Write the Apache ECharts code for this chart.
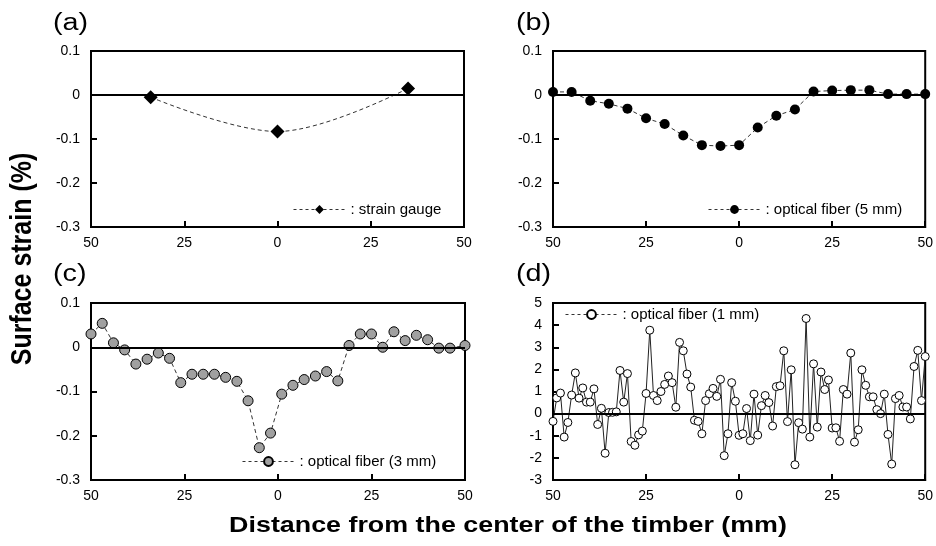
<!DOCTYPE html>
<html><head><meta charset="utf-8">
<script src="https://cdn.jsdelivr.net/npm/echarts@6/dist/echarts.min.js"></script>
<style>html,body{margin:0;padding:0;background:#fff}#c{width:936px;height:546px}</style>
</head><body><div id="c"></div>
<script>
// ---------- data ----------
const xTickValues = [-50, -25, 0, 25, 50];
const yTicksStrain = [-0.3, -0.2, -0.1, 0, 0.1];
const yTicksFiber1 = [-3, -2, -1, 0, 1, 2, 3, 4, 5];

const gaugeX = [-34, 0, 35];
const gaugeY = [-0.005, -0.083, 0.015];

const fiber5X = [-50,-45,-40,-35,-30,-25,-20,-15,-10,-5,0,5,10,15,20,25,30,35,40,45,50];
const fiber5Y = [0.007,0.007,-0.013,-0.020,-0.031,-0.053,-0.066,-0.092,-0.114,-0.116,-0.114,
                 -0.074,-0.047,-0.033,0.008,0.010,0.011,0.011,0.002,0.002,0.002];

const fiber3X = [-50,-47,-44,-41,-38,-35,-32,-29,-26,-23,-20,-17,-14,-11,-8,-5,-2,1,4,7,10,13,16,19,22,25,28,31,34,37,40,43,46,50];
const fiber3Y = [0.030,0.054,0.010,-0.006,-0.038,-0.027,-0.013,-0.025,-0.080,-0.061,-0.061,-0.061,-0.068,-0.077,
                 -0.121,-0.227,-0.194,-0.106,-0.086,-0.073,-0.065,-0.055,-0.076,0.004,0.030,0.030,0.000,0.035,
                 0.015,0.027,0.017,-0.002,-0.002,0.004];

const fiber1X = [-50,-49,-48,-47,-46,-45,-44,-43,-42,-41,-40,-39,-38,-37,-36,-35,-34,-33,-32,-31,
                 -30,-29,-28,-27,-26,-25,-24,-23,-22,-21,-20,-19,-18,-17,-16,-15,-14,-13,-12,-11,
                 -10,-9,-8,-7,-6,-5,-4,-3,-2,-1,0,1,2,3,4,5,6,7,8,9,
                 10,11,12,13,14,15,16,17,18,19,20,21,22,23,24,25,26,27,28,29,
                 30,31,32,33,34,35,36,37,38,39,40,41,42,43,44,45,46,47,48,49,50];
const fiber1Y = [-0.35,0.71,0.93,-1.06,-0.40,0.84,1.84,0.70,1.16,0.52,
                 0.52,1.12,-0.49,0.24,-1.79,0.05,0.06,0.08,1.95,0.52,
                 1.81,-1.26,-1.43,-0.96,-0.79,0.91,3.77,0.82,0.59,1.00,
                 1.32,1.70,1.40,0.29,3.22,2.84,1.79,1.20,-0.30,-0.35,
                 -0.91,0.59,0.90,1.14,0.78,1.55,-1.90,-0.91,1.40,0.56,
                 -0.98,-0.91,0.23,-1.22,0.88,-0.97,0.36,0.82,0.50,-0.56,
                 1.22,1.26,2.84,-0.36,1.98,-2.31,-0.41,-0.70,4.30,-1.06,
                 2.25,-0.61,1.88,1.09,1.52,-0.65,-0.64,-1.25,1.09,0.88,
                 2.74,-1.29,-0.73,1.98,1.28,0.76,0.76,0.18,0.00,0.88,
                 -0.94,-2.28,0.68,0.82,0.30,0.30,-0.24,2.13,2.86,0.59,2.58];

const panelLabels = ['(a)', '(b)', '(c)', '(d)'];
const seriesNames = ['strain gauge', 'optical fiber (5 mm)', 'optical fiber (3 mm)', 'optical fiber (1 mm)'];
const yTitle = 'Surface strain (%)';
const xTitle = 'Distance from the center of the timber (mm)';

// ---------- chart ----------
const FONT = '"Liberation Sans", Arial, sans-serif';
const pairs = (xs, ys) => xs.map((x, i) => [x, ys[i]]);

const grids = [
  {left: 91, top: 51, width: 373, height: 176},
  {left: 553, top: 51, width: 376, height: 176},
  {left: 91, top: 303, width: 374, height: 177},
  {left: 553, top: 303, width: 376, height: 177}
].map(g => Object.assign(g, {show: true, borderColor: '#000', borderWidth: 2, containLabel: false}));

const xAxes = grids.map((g, i) => ({
  type: 'value', gridIndex: i, min: xTickValues[0], max: xTickValues[xTickValues.length - 1],
  interval: xTickValues[1] - xTickValues[0],
  axisLine: {show: true, onZero: false, lineStyle: {color: '#000', width: 2}},
  axisTick: {show: true, inside: true, length: 6, lineStyle: {color: '#000', width: 2}},
  axisLabel: {color: '#000', fontSize: 14, fontFamily: FONT, margin: 9,
              formatter: v => String(Math.abs(v))},
  splitLine: {show: false}
}));

const yAxes = grids.map((g, i) => {
  const t = i === 3 ? yTicksFiber1 : yTicksStrain;
  return {
    type: 'value', gridIndex: i, min: t[0], max: t[t.length - 1],
    interval: i === 3 ? 1 : 0.1,
    axisLine: {show: true, onZero: false, lineStyle: {color: '#000', width: 2}},
    axisTick: {show: true, inside: true, length: 6, lineStyle: {color: '#000', width: 2}},
    axisLabel: {color: '#000', fontSize: 14, fontFamily: FONT, margin: 11,
                formatter: v => String(Math.round(v * 10) / 10)},
    splitLine: {show: false}
  };
});

const zeroLine = {
  silent: true, symbol: ['none', 'none'], label: {show: false}, animation: false,
  lineStyle: {color: '#000', type: 'solid', width: 2}, data: [{yAxis: 0}]
};
const dash = [4, 3];

const series = [
  {name: seriesNames[0], type: 'line', xAxisIndex: 0, yAxisIndex: 0, data: pairs(gaugeX, gaugeY),
   smooth: 0.35, symbol: 'diamond', symbolSize: 14,
   itemStyle: {color: '#000'}, lineStyle: {color: '#333', width: 1, type: dash}, markLine: zeroLine, z: 3},
  {name: seriesNames[1], type: 'line', xAxisIndex: 1, yAxisIndex: 1, data: pairs(fiber5X, fiber5Y),
   symbol: 'circle', symbolSize: 10,
   itemStyle: {color: '#000'}, lineStyle: {color: '#333', width: 1, type: dash}, markLine: zeroLine, z: 3},
  {name: seriesNames[2], type: 'line', xAxisIndex: 2, yAxisIndex: 2, data: pairs(fiber3X, fiber3Y),
   symbol: 'circle', symbolSize: 10,
   itemStyle: {color: '#a0a0a0', borderColor: '#000', borderWidth: 1},
   lineStyle: {color: '#333', width: 1, type: dash}, markLine: zeroLine, z: 3},
  {name: seriesNames[3], type: 'line', xAxisIndex: 3, yAxisIndex: 3, data: pairs(fiber1X, fiber1Y),
   symbol: 'circle', symbolSize: 8, showAllSymbol: true,
   itemStyle: {color: '#fff', borderColor: '#000', borderWidth: 1},
   lineStyle: {color: '#222', width: 1, type: 'solid'}, markLine: zeroLine, z: 3}
];

const legendPos = [{left: 293, top: 202}, {left: 708, top: 202}, {left: 242, top: 454}, {left: 565, top: 307}];
const legends = legendPos.map((p, i) => Object.assign({
  data: [seriesNames[i]], orient: 'horizontal', padding: 0, itemWidth: 52, itemHeight: 11,
  formatter: ': {name}', selectedMode: false,
  lineStyle: {type: [3, 3], width: 1, color: '#333'},
  textStyle: {color: '#000', fontSize: 15, fontFamily: FONT}
}, p));

const labelPos = [[53, 24], [516, 24], [53, 275], [516, 275]];
const graphics = labelPos.map((p, i) => ({
  type: 'text', x: p[0], y: p[1], scaleX: 1.25, silent: true,
  style: {text: panelLabels[i], font: '23px ' + FONT, fill: '#000', align: 'left', verticalAlign: 'middle'}
}));
graphics.push({
  type: 'text', x: 23, y: 259, rotation: Math.PI / 2, scaleY: 1.2, silent: true,
  style: {text: yTitle, font: 'bold 25px ' + FONT, fill: '#000', align: 'center', verticalAlign: 'middle'}
});
graphics.push({
  type: 'text', x: 508, y: 526, scaleX: 1.22, silent: true,
  style: {text: xTitle, font: 'bold 22px ' + FONT, fill: '#000', align: 'center', verticalAlign: 'middle'}
});

const chart = echarts.init(document.getElementById('c'), null, {renderer: 'canvas'});
chart.setOption({
  animation: false,
  backgroundColor: '#fff',
  grid: grids, xAxis: xAxes, yAxis: yAxes, series: series, legend: legends, graphic: graphics
});
</script>
</body></html>
